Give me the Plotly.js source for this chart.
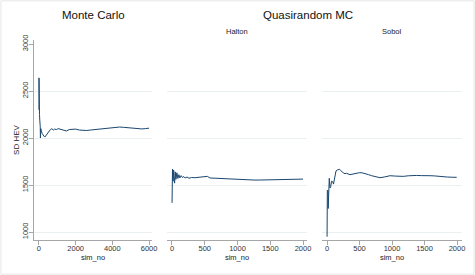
<!DOCTYPE html>
<html>
<head>
<meta charset="utf-8">
<script src="https://cdn.plot.ly/plotly-3.0.1.min.js"></script>
<style>html,body{margin:0;padding:0;background:#fff;}#chart{width:475px;height:275px;}</style>
</head>
<body>
<div id="chart"></div>
<script>
// Monte Carlo
const mcSim = [1,3,6,10,15,20,30,45,60,70,80,100,130,170,220,270,320,370,420,480,550,620,700,780,850,950,1050,1200,1350,1500,1650,1800,2000,2200,2400,2600,2800,3000,3200,3400,3600,3800,4000,4200,4400,4600,4800,5000,5200,5400,5600,5800,6000];
const mcSD  = [2300,2640,2560,2450,2380,2300,2250,2190,2160,2120,2000,2100,2080,2050,2030,2020,2010,2025,2040,2060,2080,2090,2100,2085,2095,2090,2100,2090,2080,2075,2090,2092,2095,2085,2080,2080,2085,2090,2095,2098,2100,2108,2112,2116,2117,2114,2110,2103,2098,2095,2097,2100,2105];
// Halton
const haltonSim = [1,8,12,16,20,25,30,40,50,60,75,90,105,120,140,160,180,200,230,260,300,350,400,450,500,540,580,650,720,800,880,960,1050,1150,1250,1340,1450,1550,1650,1750,1850,1950,2000];
const haltonSD  = [1310,1670,1640,1540,1560,1660,1600,1520,1640,1560,1630,1570,1610,1575,1600,1580,1590,1575,1585,1572,1580,1578,1583,1586,1590,1592,1575,1572,1568,1565,1563,1560,1557,1555,1553,1553,1556,1558,1560,1561,1562,1563,1563];
// Sobol
const sobolSim = [1,5,10,14,18,22,27,35,46,57,70,88,100,112,125,138,160,190,210,226,250,277,300,354,400,450,497,540,585,640,687,750,815,880,930,970,1050,1120,1174,1250,1320,1380,1450,1520,1585,1650,1720,1790,1850,1920,1995];
const sobolSD  = [950,1447,1200,1440,1250,1450,1553,1571,1468,1482,1540,1535,1510,1560,1580,1649,1660,1667,1655,1641,1630,1620,1625,1610,1618,1625,1631,1630,1624,1610,1599,1590,1578,1585,1595,1599,1595,1592,1592,1598,1602,1602,1600,1603,1599,1597,1590,1585,1585,1583,1582];

const yTicks = [1000,1500,2000,2500,3000];
const gridTicks = [1000,1500,2000,2500];
const mcTicks = [0,2000,4000,6000];
const qTicks = [0,500,1000,1500,2000];

const FONT = 'Liberation Sans, Arial, sans-serif';
const lineColor = '#1a476f';
const axisGray = '#a6a6a6';
const gridColor = '#eaf0f2';
const yRange = [915, 3043];

const line = {color: lineColor, width: 1};
const traces = [
  {x: mcSim, y: mcSD, type: 'scatter', mode: 'lines', line: line, xaxis: 'x', yaxis: 'y', hoverinfo: 'skip'},
  {x: haltonSim, y: haltonSD, type: 'scatter', mode: 'lines', line: line, xaxis: 'x2', yaxis: 'y2', hoverinfo: 'skip'},
  {x: sobolSim, y: sobolSD, type: 'scatter', mode: 'lines', line: line, xaxis: 'x3', yaxis: 'y3', hoverinfo: 'skip'},
  // empty trace so the labelled overlay axis of panel 1 is drawn
  {x: [], y: [], type: 'scatter', mode: 'lines', xaxis: 'x', yaxis: 'y4', hoverinfo: 'skip'}
];

function xa(domain, range, ticks, anchor) {
  return {
    domain: domain, range: range, anchor: anchor,
    tickmode: 'array', tickvals: ticks, ticktext: ticks.map(String),
    showgrid: false, zeroline: false,
    showline: true, linecolor: axisGray, linewidth: 1,
    ticks: 'outside', ticklen: 4, tickcolor: axisGray, tickwidth: 1,
    ticklabelstandoff: -3,
    tickfont: {family: FONT, size: 7.5, color: '#333'},
    title: {text: 'sim_no', font: {family: FONT, size: 7.5, color: '#222'}, standoff: 0},
    fixedrange: true
  };
}
function yaGrid(domain, anchor) {
  return {
    domain: domain, range: yRange, anchor: anchor,
    tickmode: 'array', tickvals: gridTicks,
    showticklabels: false, ticks: '',
    showgrid: true, gridcolor: gridColor, gridwidth: 1,
    zeroline: false, showline: false, fixedrange: true
  };
}

const yDom = [1 - 240/275, 1 - 40/275];
const layout = {
  width: 475, height: 275,
  margin: {l: 0, r: 0, t: 0, b: 0},
  paper_bgcolor: '#ffffff', plot_bgcolor: '#ffffff',
  showlegend: false,
  xaxis: xa([34/475, 152/475], [-270, 6160], mcTicks, 'y'),
  xaxis2: xa([167/475, 307/475], [-76, 2061], qTicks, 'y2'),
  xaxis3: xa([322/475, 462/475], [-77, 2077], qTicks, 'y3'),
  yaxis: yaGrid(yDom, 'x'),
  yaxis4: {
    domain: yDom, range: yRange, anchor: 'x', overlaying: 'y', side: 'left',
    tickmode: 'array', tickvals: yTicks, ticktext: yTicks.map(String),
    tickangle: -90,
    showgrid: false, zeroline: false,
    showline: true, linecolor: axisGray, linewidth: 1,
    ticks: 'outside', ticklen: 4, tickcolor: axisGray, tickwidth: 1,
    ticklabelstandoff: -2,
    tickfont: {family: FONT, size: 7.5, color: '#333'},
    title: {text: 'SD HEV', font: {family: FONT, size: 8, color: '#222'}, standoff: 0},
    fixedrange: true
  },
  yaxis2: yaGrid(yDom, 'x2'),
  yaxis3: yaGrid(yDom, 'x3'),
  annotations: [
    {text: 'Monte Carlo', xref: 'paper', yref: 'paper', x: 93/475, y: 1 - 15/275, xanchor: 'center', yanchor: 'middle', showarrow: false, font: {family: FONT, size: 11.5, color: '#111'}},
    {text: 'Quasirandom MC', xref: 'paper', yref: 'paper', x: 308/475, y: 1 - 15/275, xanchor: 'center', yanchor: 'middle', showarrow: false, font: {family: FONT, size: 11.5, color: '#111'}},
    {text: 'Halton', xref: 'paper', yref: 'paper', x: 237/475, y: 1 - 32/275, xanchor: 'center', yanchor: 'middle', showarrow: false, font: {family: FONT, size: 7.5, color: '#222'}},
    {text: 'Sobol', xref: 'paper', yref: 'paper', x: 392/475, y: 1 - 32/275, xanchor: 'center', yanchor: 'middle', showarrow: false, font: {family: FONT, size: 7.5, color: '#222'}}
  ],
  shapes: [
    {type: 'rect', xref: 'paper', yref: 'paper', x0: 0.002, x1: 0.998, y0: 0.003, y1: 0.997, line: {color: '#e6e6e6', width: 1}, fillcolor: 'rgba(0,0,0,0)', layer: 'below'}
  ]
};

Plotly.newPlot('chart', traces, layout, {staticPlot: true, displayModeBar: false});
</script>
</body>
</html>
